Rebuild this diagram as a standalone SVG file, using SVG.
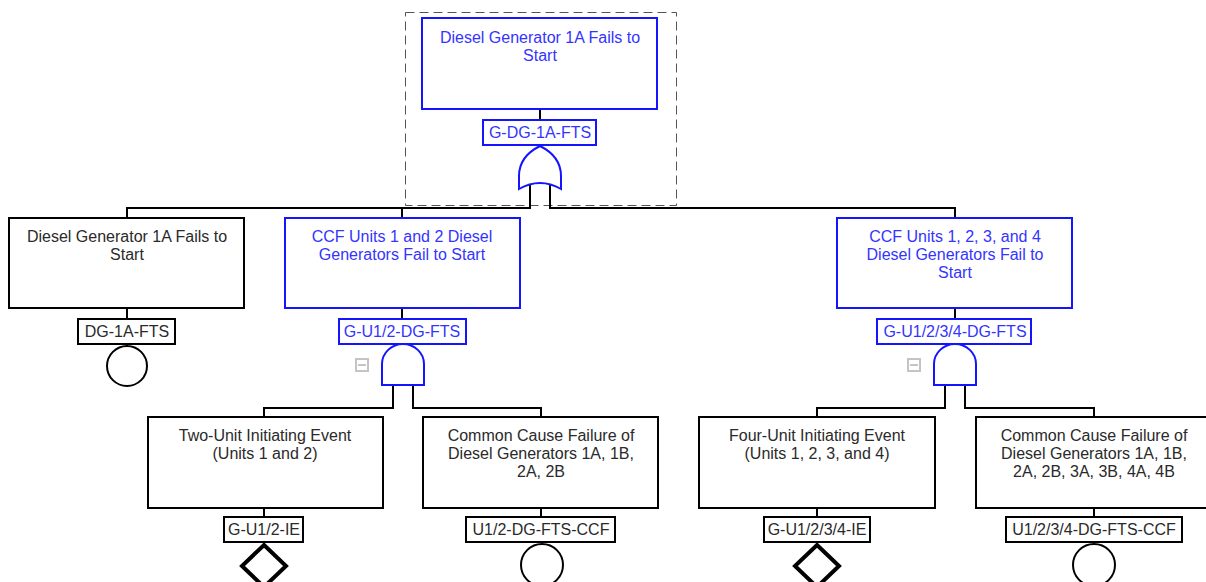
<svg xmlns="http://www.w3.org/2000/svg" width="1206" height="582" viewBox="0 0 1206 582">
<style>
text{font-family:"Liberation Sans",Arial,sans-serif;font-size:16px;text-anchor:middle}
.bt{fill:#2a2a2a}
.blt{fill:#3434ff}
.bk{fill:#fff;stroke:#000;stroke-width:2}
.bl{fill:#fff;stroke:#1414ff;stroke-width:2}
.gate{fill:#fff;stroke:#1414ff;stroke-width:2}
.con{fill:none;stroke:#000;stroke-width:2}
.icon{fill:none;stroke:#c4c4c4;stroke-width:2}
</style>
<rect x="405.5" y="12.5" width="271" height="193" fill="none" stroke="#555" stroke-width="1" stroke-dasharray="9,5"/>
<g id="connectors">
<path class="con" d="M540,109 V120"/>
<path class="con" d="M530,184 V208 H127 V218"/>
<path class="con" d="M550,184 V208 H955 V218"/>
<path class="con" d="M402,208 V218"/>
<path class="con" d="M127,308 V319 M402,308 V319 M955,308 V319"/>
<path class="con" d="M127,344 V346"/>
<path class="con" d="M393,385 V408 H264 V417"/>
<path class="con" d="M413,385 V408 H541 V417"/>
<path class="con" d="M945,385 V408 H817 V417"/>
<path class="con" d="M965,385 V408 H1094 V417"/>
<path class="con" d="M264,508 V517 M541,508 V517 M817,508 V517 M1094,508 V517"/>
</g>
<g id="top">
<rect class="bl" x="422" y="18" width="235" height="91"/>
<text class="blt" x="540" y="43">Diesel Generator 1A Fails to</text>
<text class="blt" x="540" y="61">Start</text>
<rect class="bl" x="483" y="120" width="113" height="25"/>
<text class="blt" x="540" y="138">G-DG-1A-FTS</text>
<path class="gate" d="M540,146 C528,152 519,162 519,176 V189 Q540,177 561,189 V176 C561,162 552,152 540,146 Z"/>
</g>
<g id="dg1a">
<rect class="bk" x="9" y="218" width="235" height="90"/>
<text class="bt" x="127" y="242">Diesel Generator 1A Fails to</text>
<text class="bt" x="127" y="260">Start</text>
<rect class="bk" x="78" y="319" width="97" height="25"/>
<text class="bt" x="127" y="337">DG-1A-FTS</text>
<circle cx="127" cy="366" r="20" fill="#fff" stroke="#000" stroke-width="2"/>
</g>
<g id="ccf12">
<rect class="bl" x="285" y="218" width="235" height="90"/>
<text class="blt" x="402" y="242">CCF Units 1 and 2 Diesel</text>
<text class="blt" x="402" y="260">Generators Fail to Start</text>
<rect class="bl" x="339" y="319" width="127" height="25"/>
<text class="blt" x="402" y="337">G-U1/2-DG-FTS</text>
<path class="gate" d="M382,385 V364 A21,20 0 0 1 424,364 V385 Z"/>
<rect class="icon" x="356" y="359" width="12" height="12"/>
<path class="icon" d="M358,365 H366"/>
</g>
<g id="ccf1234">
<rect class="bl" x="837" y="218" width="235" height="90"/>
<text class="blt" x="955" y="242">CCF Units 1, 2, 3, and 4</text>
<text class="blt" x="955" y="260">Diesel Generators Fail to</text>
<text class="blt" x="955" y="278">Start</text>
<rect class="bl" x="877" y="319" width="154" height="25"/>
<text class="blt" x="955" y="337">G-U1/2/3/4-DG-FTS</text>
<path class="gate" d="M934,385 V364 A21,20 0 0 1 976,364 V385 Z"/>
<rect class="icon" x="908" y="359" width="12" height="12"/>
<path class="icon" d="M910,365 H918"/>
</g>
<g id="ie12">
<rect class="bk" x="148" y="417" width="235" height="91"/>
<text class="bt" x="265" y="441">Two-Unit Initiating Event</text>
<text class="bt" x="265" y="459">(Units 1 and 2)</text>
<rect class="bk" x="224" y="517" width="79" height="25"/>
<text class="bt" x="264" y="535">G-U1/2-IE</text>
<path d="M264,545 L286,566 L264,587 L242,566 Z" fill="#fff" stroke="#000" stroke-width="4"/>
</g>
<g id="ccfdg12">
<rect class="bk" x="423" y="417" width="235" height="91"/>
<text class="bt" x="541" y="441">Common Cause Failure of</text>
<text class="bt" x="541" y="459">Diesel Generators 1A, 1B,</text>
<text class="bt" x="541" y="477">2A, 2B</text>
<rect class="bk" x="466" y="517" width="149" height="25"/>
<text class="bt" x="541" y="535">U1/2-DG-FTS-CCF</text>
<circle cx="542" cy="565" r="21" fill="#fff" stroke="#000" stroke-width="2"/>
</g>
<g id="ie1234">
<rect class="bk" x="699" y="417" width="236" height="91"/>
<text class="bt" x="817" y="441">Four-Unit Initiating Event</text>
<text class="bt" x="817" y="459">(Units 1, 2, 3, and 4)</text>
<rect class="bk" x="764" y="517" width="106" height="25"/>
<text class="bt" x="817" y="535">G-U1/2/3/4-IE</text>
<path d="M817,545 L839,566 L817,587 L795,566 Z" fill="#fff" stroke="#000" stroke-width="4"/>
</g>
<g id="ccfdg1234">
<rect class="bk" x="976" y="417" width="236" height="91"/>
<text class="bt" x="1094" y="441">Common Cause Failure of</text>
<text class="bt" x="1094" y="459">Diesel Generators 1A, 1B,</text>
<text class="bt" x="1094" y="477">2A, 2B, 3A, 3B, 4A, 4B</text>
<rect class="bk" x="1006" y="517" width="176" height="25"/>
<text class="bt" x="1094" y="535">U1/2/3/4-DG-FTS-CCF</text>
<circle cx="1094" cy="565" r="21" fill="#fff" stroke="#000" stroke-width="2"/>
</g>
</svg>
